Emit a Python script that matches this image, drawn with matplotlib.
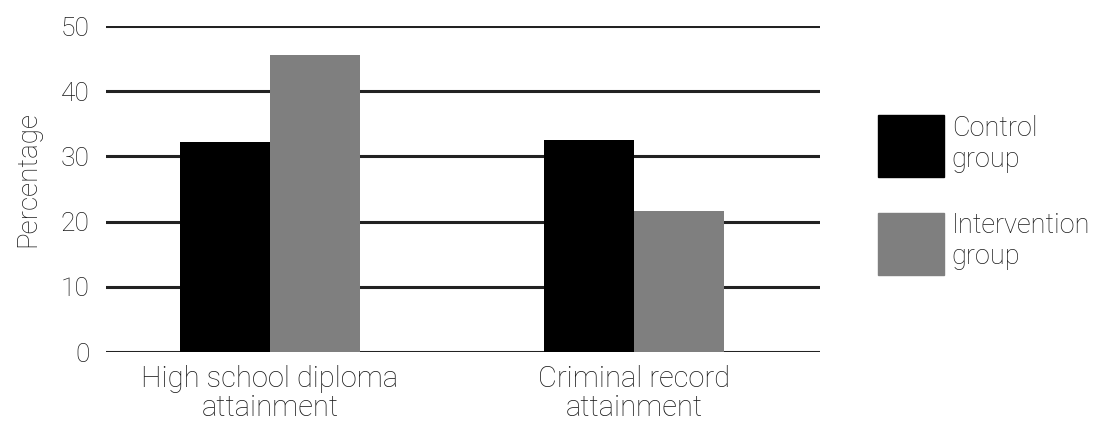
import matplotlib
matplotlib.use("Agg")
import matplotlib.pyplot as plt
from matplotlib.patches import Patch
import numpy as np

categories = ["High school diploma\nattainment", "Criminal record\nattainment"]
control_values = [32.2, 32.5]
intervention_values = [45.5, 21.6]
series_labels = ["Control\ngroup", "Intervention\ngroup"]
y_ticks = [0, 10, 20, 30, 40, 50]

plt.rcParams["font.family"] = ["Roboto", "DejaVu Sans"]
plt.rcParams["font.weight"] = "light"
plt.rcParams["axes.labelweight"] = "light"
text_color = "#1a1a1a"

fig = plt.figure(figsize=(10.95, 4.23), dpi=100)
ax = fig.add_axes([106 / 1095, 1 - 352 / 423, 714 / 1095, 326 / 423])

x = np.arange(len(categories))
width = 0.247
ax.bar(x - width / 2, control_values, width, color="#000000", zorder=3)
ax.bar(x + width / 2, intervention_values, width, color="#7f7f7f", zorder=3)

for t in y_ticks:
    ax.axhline(t, color="#222222", linewidth=2.2, zorder=1)

ax.set_xlim(-0.45, 1.511)
ax.set_ylim(0, 50)
ax.set_yticks(y_ticks)
ax.set_yticklabels([str(t) for t in y_ticks], fontsize=19, color=text_color)
ax.set_xticks(x)
ax.set_xticklabels(categories, fontsize=21, color=text_color, linespacing=1.05)
ax.tick_params(length=0, pad=12)
ax.tick_params(axis="x", pad=9)
ax.set_ylabel("Percentage", fontsize=20, color=text_color)
ax.yaxis.set_label_coords(-0.09, 0.53)
for s in ax.spines.values():
    s.set_visible(False)

handles = [Patch(color="#000000"), Patch(color="#7f7f7f")]
fig.legend(handles, series_labels, loc="upper left",
           bbox_to_anchor=(864 / 1095, 1 - 101 / 423), frameon=False,
           handlelength=2.44, handleheight=3.14,
           labelspacing=1.29, handletextpad=0.3, borderpad=0,
           labelcolor=text_color, prop={"weight": "light", "size": 19.5})

fig.savefig("out.png", dpi=100)
